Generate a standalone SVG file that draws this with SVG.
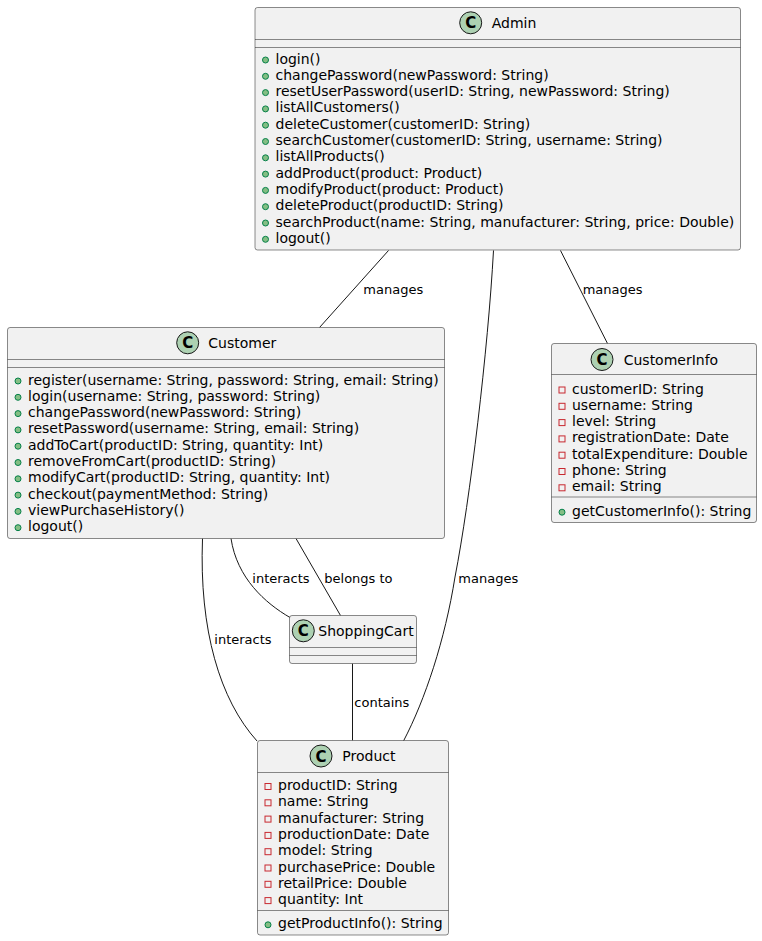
<svg xmlns="http://www.w3.org/2000/svg" width="762" height="941" viewBox="0 0 762 941">
<style>
text{font-family:"DejaVu Sans","Liberation Sans",sans-serif;fill:#000}
.box{fill:#F1F1F1;stroke:#181818;stroke-width:0.5}
.sep{stroke:#181818;stroke-width:0.5}
.circ{fill:#ADD1B2;stroke:#181818;stroke-width:1}
.C{font-weight:bold;font-size:15px;text-anchor:middle}
.t{font-size:14px}
.m{font-size:14px}
.pub{fill:#84BE84;stroke:#038048;stroke-width:1}
.priv{fill:none;stroke:#C82930;stroke-width:1}
.link{fill:none;stroke:#181818;stroke-width:1}
.lbl{font-size:13px}
</style>
<rect width="762" height="941" fill="#FFFFFF"/>
<g id="connectors">
<path class="link" d="M388.5,250.5 L319.5,327.5"/>
<path class="link" d="M493.5,250.5 C488,350 470,500 455,577 C445,640 425,700 403.5,741"/>
<path class="link" d="M560.5,250.5 L607.5,343.5"/>
<path class="link" d="M231,538.5 C237,578 265,603 290,617.5"/>
<path class="link" d="M296,538.5 L340.5,615.5"/>
<path class="link" d="M202.5,538.5 C199,630 220,700 257,741"/>
<path class="link" d="M352.5,663.5 L352.5,740.5"/>
<text class="lbl" x="363.3" y="294">manages</text>
<text class="lbl" x="582.7" y="294">manages</text>
<text class="lbl" x="458.3" y="583">manages</text>
<text class="lbl" x="252.3" y="582.5">interacts</text>
<text class="lbl" x="324.3" y="582.5">belongs to</text>
<text class="lbl" x="214.3" y="644">interacts</text>
<text class="lbl" x="354.3" y="707">contains</text>
</g>
<g id="Admin">
<rect class="box" x="255" y="7.5" width="485.5" height="242.5" rx="2.5"/>
<circle class="circ" cx="470.7" cy="22.8" r="11"/>
<text class="C" x="470.7" y="28.3">C</text>
<text class="t" x="491.7" y="27.8">Admin</text>
<line class="sep" x1="255" y1="39.5" x2="740.5" y2="39.5"/>
<line class="sep" x1="255" y1="47.5" x2="740.5" y2="47.5"/>
<circle class="pub" cx="265.5" cy="60" r="3"/><text class="m" x="275.5" y="63.5">login()</text>
<circle class="pub" cx="265.5" cy="76.3" r="3"/><text class="m" x="275.5" y="79.8">changePassword(newPassword: String)</text>
<circle class="pub" cx="265.5" cy="92.6" r="3"/><text class="m" x="275.5" y="96.1">resetUserPassword(userID: String, newPassword: String)</text>
<circle class="pub" cx="265.5" cy="108.9" r="3"/><text class="m" x="275.5" y="112.4">listAllCustomers()</text>
<circle class="pub" cx="265.5" cy="125.2" r="3"/><text class="m" x="275.5" y="128.7">deleteCustomer(customerID: String)</text>
<circle class="pub" cx="265.5" cy="141.5" r="3"/><text class="m" x="275.5" y="145">searchCustomer(customerID: String, username: String)</text>
<circle class="pub" cx="265.5" cy="157.8" r="3"/><text class="m" x="275.5" y="161.3">listAllProducts()</text>
<circle class="pub" cx="265.5" cy="174.1" r="3"/><text class="m" x="275.5" y="177.6">addProduct(product: Product)</text>
<circle class="pub" cx="265.5" cy="190.4" r="3"/><text class="m" x="275.5" y="193.9">modifyProduct(product: Product)</text>
<circle class="pub" cx="265.5" cy="206.7" r="3"/><text class="m" x="275.5" y="210.2">deleteProduct(productID: String)</text>
<circle class="pub" cx="265.5" cy="223" r="3"/><text class="m" x="275.5" y="226.5">searchProduct(name: String, manufacturer: String, price: Double)</text>
<circle class="pub" cx="265.5" cy="239.3" r="3"/><text class="m" x="275.5" y="242.8">logout()</text>
</g>
<g id="Customer">
<rect class="box" x="7.5" y="327.5" width="437" height="211" rx="2.5"/>
<circle class="circ" cx="187.7" cy="342.8" r="11"/>
<text class="C" x="187.7" y="348.3">C</text>
<text class="t" x="208.3" y="347.8">Customer</text>
<line class="sep" x1="7.5" y1="359.5" x2="444.5" y2="359.5"/>
<line class="sep" x1="7.5" y1="367.5" x2="444.5" y2="367.5"/>
<circle class="pub" cx="18" cy="381" r="3"/><text class="m" x="28" y="384.5">register(username: String, password: String, email: String)</text>
<circle class="pub" cx="18" cy="397.3" r="3"/><text class="m" x="28" y="400.8">login(username: String, password: String)</text>
<circle class="pub" cx="18" cy="413.6" r="3"/><text class="m" x="28" y="417.1">changePassword(newPassword: String)</text>
<circle class="pub" cx="18" cy="429.9" r="3"/><text class="m" x="28" y="433.4">resetPassword(username: String, email: String)</text>
<circle class="pub" cx="18" cy="446.2" r="3"/><text class="m" x="28" y="449.7">addToCart(productID: String, quantity: Int)</text>
<circle class="pub" cx="18" cy="462.5" r="3"/><text class="m" x="28" y="466">removeFromCart(productID: String)</text>
<circle class="pub" cx="18" cy="478.8" r="3"/><text class="m" x="28" y="482.3">modifyCart(productID: String, quantity: Int)</text>
<circle class="pub" cx="18" cy="495.1" r="3"/><text class="m" x="28" y="498.6">checkout(paymentMethod: String)</text>
<circle class="pub" cx="18" cy="511.4" r="3"/><text class="m" x="28" y="514.9">viewPurchaseHistory()</text>
<circle class="pub" cx="18" cy="527.7" r="3"/><text class="m" x="28" y="531.2">logout()</text>
</g>
<g id="CustomerInfo">
<rect class="box" x="551.5" y="343.5" width="205" height="179" rx="2.5"/>
<circle class="circ" cx="602" cy="359.5" r="11"/>
<text class="C" x="602" y="365">C</text>
<text class="t" x="623.7" y="364.5">CustomerInfo</text>
<line class="sep" x1="551.5" y1="374.5" x2="756.5" y2="374.5"/>
<rect class="priv" x="559" y="387" width="6" height="6"/><text class="m" x="572" y="393.5">customerID: String</text>
<rect class="priv" x="559" y="403.3" width="6" height="6"/><text class="m" x="572" y="409.8">username: String</text>
<rect class="priv" x="559" y="419.6" width="6" height="6"/><text class="m" x="572" y="426.1">level: String</text>
<rect class="priv" x="559" y="435.9" width="6" height="6"/><text class="m" x="572" y="442.4">registrationDate: Date</text>
<rect class="priv" x="559" y="452.2" width="6" height="6"/><text class="m" x="572" y="458.7">totalExpenditure: Double</text>
<rect class="priv" x="559" y="468.5" width="6" height="6"/><text class="m" x="572" y="475">phone: String</text>
<rect class="priv" x="559" y="484.8" width="6" height="6"/><text class="m" x="572" y="491.3">email: String</text>
<line class="sep" x1="551.5" y1="497" x2="756.5" y2="497"/>
<circle class="pub" cx="562" cy="512.2" r="3"/><text class="m" x="572" y="515.7">getCustomerInfo(): String</text>
</g>
<g id="ShoppingCart">
<rect class="box" x="289.5" y="615.5" width="127" height="48" rx="2.5"/>
<circle class="circ" cx="303.3" cy="630.8" r="11"/>
<text class="C" x="303.3" y="636.3">C</text>
<text class="t" x="318.3" y="635.8">ShoppingCart</text>
<line class="sep" x1="289.5" y1="647.5" x2="416.5" y2="647.5"/>
<line class="sep" x1="289.5" y1="655.5" x2="416.5" y2="655.5"/>
</g>
<g id="Product">
<rect class="box" x="257.5" y="740.5" width="191" height="194.5" rx="2.5"/>
<circle class="circ" cx="321" cy="756" r="11"/>
<text class="C" x="321" y="761.5">C</text>
<text class="t" x="342.3" y="761">Product</text>
<line class="sep" x1="257.5" y1="772.5" x2="448.5" y2="772.5"/>
<rect class="priv" x="265" y="783.5" width="6" height="6"/><text class="m" x="278" y="790">productID: String</text>
<rect class="priv" x="265" y="799.8" width="6" height="6"/><text class="m" x="278" y="806.3">name: String</text>
<rect class="priv" x="265" y="816.1" width="6" height="6"/><text class="m" x="278" y="822.6">manufacturer: String</text>
<rect class="priv" x="265" y="832.4" width="6" height="6"/><text class="m" x="278" y="838.9">productionDate: Date</text>
<rect class="priv" x="265" y="848.7" width="6" height="6"/><text class="m" x="278" y="855.2">model: String</text>
<rect class="priv" x="265" y="865" width="6" height="6"/><text class="m" x="278" y="871.5">purchasePrice: Double</text>
<rect class="priv" x="265" y="881.3" width="6" height="6"/><text class="m" x="278" y="887.8">retailPrice: Double</text>
<rect class="priv" x="265" y="897.6" width="6" height="6"/><text class="m" x="278" y="904.1">quantity: Int</text>
<line class="sep" x1="257.5" y1="910.5" x2="448.5" y2="910.5"/>
<circle class="pub" cx="268" cy="924.8" r="3"/><text class="m" x="278" y="928.3">getProductInfo(): String</text>
</g>
</svg>
